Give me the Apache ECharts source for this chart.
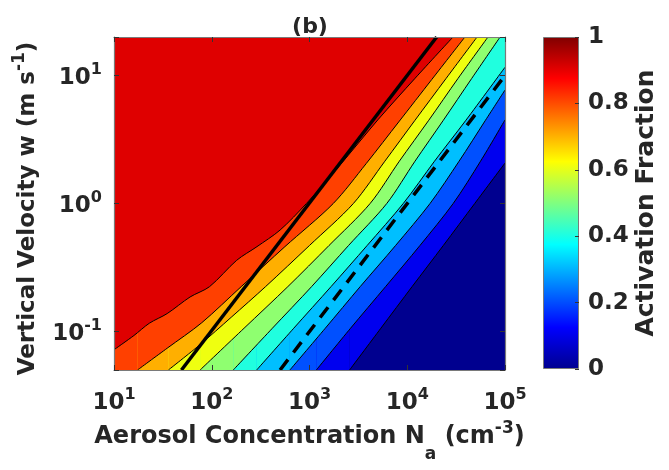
<!DOCTYPE html>
<html>
<head>
<meta charset="utf-8">
<script src="https://cdn.jsdelivr.net/npm/echarts@6/dist/echarts.min.js"></script>
<style>
html,body{margin:0;padding:0;background:#ffffff;}
#chart{width:669px;height:470px;}
</style>
</head>
<body>
<div id="chart"></div>
<script>
// ---------------- data ----------------
const xRange = [10, 100000];          // aerosol concentration N_a (cm^-3)
const yRange = [0.05, 20];            // vertical velocity w (m s^-1)
const cbTicks = [0, 0.2, 0.4, 0.6, 0.8, 1];
const levels = [0.1, 0.2, 0.3, 0.4, 0.5, 0.6, 0.7, 0.8, 0.9];

// contour lines of activation fraction, [N_a, w] pairs
const af10 = [[2570,0.05],[5370,0.106],[11200,0.224],[23400,0.47],[49000,1.0],[100000,2.07]];
const af20 = [[1175,0.05],[2630,0.106],[6000,0.224],[13500,0.47],[29500,1.0],[56200,2.14],[100000,4.5]];
const af30 = [[630,0.05],[1450,0.106],[3300,0.224],[7600,0.47],[17100,1.0],[33900,2.14],[63100,4.47],[100000,7.7]];
const af40 = [[288,0.05],[690,0.106],[1660,0.224],[3890,0.47],[9100,1.0],[19000,2.14],[39800,4.47],[100000,11.6]];
const af50 = [[166,0.05],[417,0.106],[1050,0.224],[2510,0.47],[6170,1.0],[12000,2.14],[23400,4.47],[45700,9.5],[89100,20]];
const af60 = [[76,0.05],[214,0.106],[600,0.224],[1585,0.47],[4170,1.0],[8300,2.14],[16600,4.47],[33100,9.5],[67000,20]];
const af70 = [[36,0.05],[76,0.079],[158,0.129],[355,0.224],[1000,0.47],[2810,1.0],[5900,2.14],[12000,4.47],[25000,9.5],[51800,20]];
const af80 = [[17.4,0.05],[35,0.074],[79,0.117],[200,0.224],[560,0.46],[1750,1.0],[3800,2.05],[8300,4.4],[17800,9.3],[38900,20]];
const af90 = [[10,0.072],[16,0.093],[23,0.116],[35,0.138],[60,0.186],[95,0.224],[180,0.36],[290,0.46],[500,0.62],[930,1.0],[2000,1.95],[5000,4.5],[12000,9.5],[29400,20]];
const contours = [af10, af20, af30, af40, af50, af60, af70, af80, af90];

// the two reference lines
const solidLine = [[49, 0.05], [20000, 20]];
const dashedLine = [[500, 0.05], [100000, 10]];

// ---------------- styles ----------------
const bandColors = ['#00008f','#0000ef','#0050ff','#00bfff','#20ffdf','#8fff70','#efff10','#ffaf00','#ff4000','#df0000'];
const jetStops = [[0,'#00008f'],[0.125,'#0000ff'],[0.375,'#00ffff'],[0.625,'#ffff00'],[0.875,'#ff0000'],[1,'#800000']];
const FONT = 'DejaVu Sans';
const TXT = '#262626';
const BOX = '#7a7a7a';

function isPow10(v) { const e = Math.log10(v); return Math.abs(e - Math.round(e)) < 1e-6; }
function powLabel(v) { return isPow10(v) ? '{b|10}{s|' + Math.round(Math.log10(v)) + '}' : ''; }
const tickRich = {
  b: {fontFamily: FONT, fontWeight: 'bold', fontSize: 23, color: TXT, verticalAlign: 'bottom', lineHeight: 28},
  s: {fontFamily: FONT, fontWeight: 'bold', fontSize: 16, color: TXT, verticalAlign: 'top'}
};
function nameRich(size) {
  return {
    m: {fontFamily: FONT, fontWeight: 'bold', fontSize: size, color: TXT, verticalAlign: 'middle', lineHeight: 52},
    sup: {fontFamily: FONT, fontWeight: 'bold', fontSize: 17, color: TXT, verticalAlign: 'top', padding: [9,0,0,0]},
    sub: {fontFamily: FONT, fontWeight: 'bold', fontSize: 17, color: TXT, verticalAlign: 'bottom'}
  };
}

const series = [];
// filled bands, lowest level first; each region lies above/left of its contour
contours.forEach(function (c, i) {
  if (c[0][1] <= yRange[0]) {
    // full-height column left of the point where the contour leaves the bottom edge
    series.push({
      type: 'line', xAxisIndex: 0, yAxisIndex: 0,
      data: [[xRange[0], yRange[0]], c[0]],
      symbol: 'none', silent: true, z: 2,
      lineStyle: {width: 0, opacity: 0},
      areaStyle: {color: bandColors[i + 1], opacity: 1, origin: 'end'}
    });
  }
  series.push({
    type: 'line', xAxisIndex: 0, yAxisIndex: 0, data: c,
    symbol: 'none', silent: true, z: 2, smooth: 0.3,
    lineStyle: {color: '#000000', width: 1},
    areaStyle: {color: bandColors[i + 1], opacity: 1, origin: 'end'}
  });
});
series.push({
  type: 'line', xAxisIndex: 0, yAxisIndex: 0, data: solidLine,
  symbol: 'none', silent: true, z: 4,
  lineStyle: {color: '#000000', width: 3.5}
});
series.push({
  type: 'line', xAxisIndex: 0, yAxisIndex: 0, data: dashedLine,
  symbol: 'none', silent: true, z: 4,
  lineStyle: {color: '#000000', width: 3.5, type: [13, 9]}
});
series.push({
  type: 'bar', xAxisIndex: 2, yAxisIndex: 2, data: [cbTicks[cbTicks.length - 1]],
  barWidth: '100%', silent: true, z: 2,
  itemStyle: {
    color: {type: 'linear', x: 0, y: 1, x2: 0, y2: 0,
      colorStops: jetStops.map(function (s) { return {offset: s[0], color: s[1]}; })},
    borderColor: BOX, borderWidth: 1
  }
});

const logAxisCommon = {
  type: 'log', logBase: 10, gridIndex: 0, z: 10,
  axisLine: {show: true, lineStyle: {color: BOX, width: 1.2}},
  axisTick: {show: true, inside: true, length: 5, lineStyle: {color: '#333333'}},
  minorTick: {show: false},
  splitLine: {show: false}
};

const option = {
  animation: false,
  backgroundColor: '#ffffff',
  textStyle: {fontFamily: FONT},
  title: {
    text: '(b)', left: 310, top: 16, textAlign: 'center', padding: 0,
    textStyle: {fontFamily: FONT, fontWeight: 'bold', fontSize: 22, color: TXT}
  },
  grid: [
    {left: 114, top: 37, width: 391, height: 333, show: true, backgroundColor: bandColors[0], borderWidth: 0, containLabel: false, outerBoundsMode: 'none'},
    {left: 543, top: 37, width: 36, height: 332, show: false, containLabel: false, outerBoundsMode: 'none'}
  ],
  xAxis: [
    Object.assign({}, logAxisCommon, {
      position: 'bottom', min: xRange[0], max: xRange[1],
      axisLabel: {formatter: powLabel, rich: tickRich, margin: 17},
      name: '{m|Aerosol Concentration N}{sub|a}{m| (cm}{sup|-3}{m|)}',
      nameLocation: 'middle', nameGap: 40,
      nameTextStyle: {rich: nameRich(24)}
    }),
    Object.assign({}, logAxisCommon, {
      position: 'top', min: xRange[0], max: xRange[1],
      axisLabel: {show: false}
    }),
    {type: 'category', gridIndex: 1, data: ['cb'], show: false}
  ],
  yAxis: [
    Object.assign({}, logAxisCommon, {
      position: 'left', min: yRange[0], max: yRange[1],
      axisLabel: {formatter: powLabel, rich: tickRich, margin: 12},
      name: '{m|Vertical Velocity w (m s}{sup|-1}{m|)}',
      nameLocation: 'middle', nameGap: 60, nameRotate: 90,
      nameTextStyle: {rich: nameRich(23), padding: [0, 10, 0, 0]}
    }),
    Object.assign({}, logAxisCommon, {
      position: 'right', min: yRange[0], max: yRange[1],
      axisLabel: {show: false}
    }),
    {
      type: 'value', gridIndex: 1, position: 'right', min: cbTicks[0], max: cbTicks[cbTicks.length - 1], interval: 0.2, z: 10,
      axisLine: {show: false},
      axisTick: {show: true, inside: true, length: 4, lineStyle: {color: '#333333'}},
      splitLine: {show: false},
      axisLabel: {margin: 9, padding: [6, 0, 0, 0], fontFamily: FONT, fontWeight: 'bold', fontSize: 23, color: TXT},
      name: 'Activation Fraction', nameLocation: 'middle', nameGap: 55, nameRotate: 90,
      nameTextStyle: {fontFamily: FONT, fontWeight: 'bold', fontSize: 25, color: TXT}
    }
  ],
  series: series
};

const chart = echarts.init(document.getElementById('chart'), null, {renderer: 'canvas', width: 669, height: 470});
chart.setOption(option);
</script>
</body>
</html>
